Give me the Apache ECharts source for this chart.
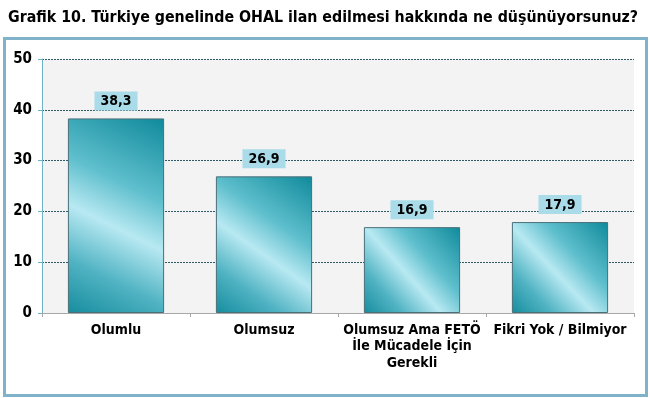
<!DOCTYPE html>
<html>
<head>
<meta charset="utf-8">
<script src="https://cdn.jsdelivr.net/npm/echarts@6/dist/echarts.min.js"></script>
<style>
  html, body { margin: 0; padding: 0; background: #fff; }
  #chart { width: 650px; height: 398px; }
</style>
</head>
<body>
<div id="chart"></div>
<script>
// kategoriler ve değerler (%)
const categories = ['Olumlu', 'Olumsuz', 'Olumsuz Ama FETÖ\nİle Mücadele İçin\nGerekli', 'Fikri Yok / Bilmiyor'];
const values = [38.3, 26.9, 16.9, 17.9];
const yTicks = [0, 10, 20, 30, 40, 50];

const chart = echarts.init(document.getElementById('chart'));
const font = 'Tahoma, "DejaVu Sans Condensed", "DejaVu Sans", sans-serif';

chart.setOption({
  animation: false,
  backgroundColor: '#fff',
  title: {
    text: 'Grafik 10. Türkiye genelinde OHAL ilan edilmesi hakkında ne düşünüyorsunuz?',
    left: 3,
    top: 5,
    textStyle: { fontFamily: font, fontWeight: 'bold', fontSize: 15.8, color: '#000' }
  },
  graphic: [{
    type: 'rect',
    silent: true,
    shape: { x: 4.5, y: 38.5, width: 642, height: 357 },
    style: { fill: 'none', stroke: '#80b2ca', lineWidth: 3 }
  }],
  grid: {
    left: 42, right: 16, top: 59, bottom: 85,
    show: true, backgroundColor: '#f3f3f3', borderWidth: 0
  },
  xAxis: {
    type: 'category',
    data: categories,
    axisLine: { lineStyle: { color: '#a8a8a8' } },
    axisTick: { show: true, length: 4, lineStyle: { color: '#a8a8a8' } },
    axisLabel: {
      interval: 0, margin: 9, color: '#000', fontFamily: font,
      fontWeight: 'bold', fontSize: 14, lineHeight: 16.5
    }
  },
  yAxis: {
    type: 'value',
    min: yTicks[0],
    max: yTicks[yTicks.length - 1],
    interval: 10,
    axisLine: { show: true, lineStyle: { color: '#6fb4c6' } },
    axisTick: { show: true, length: 4, lineStyle: { color: '#6fb4c6' } },
    axisLabel: { color: '#000', fontFamily: font, fontWeight: 'bold', fontSize: 15, margin: 10 },
    splitLine: { lineStyle: { color: '#2e5a66', type: [2, 1], width: 1 } }
  },
  series: [{
    type: 'bar',
    data: values,
    barWidth: '65%',
    itemStyle: {
      borderColor: '#4a6f78',
      borderWidth: 1,
      color: new echarts.graphic.LinearGradient(1, 0, 0, 1, [
        { offset: 0, color: '#0f8a9b' },
        { offset: 0.35, color: '#5fbfcd' },
        { offset: 0.55, color: '#b8e9f2' },
        { offset: 0.78, color: '#4fb2c2' },
        { offset: 1, color: '#168d9e' }
      ])
    },
    label: {
      show: true,
      position: 'top',
      distance: 8,
      formatter: p => String(p.value).replace('.', ','),
      backgroundColor: '#a9dbe8',
      padding: [3, 6, 2, 6],
      color: '#000',
      fontFamily: font,
      fontWeight: 'bold',
      fontSize: 14
    }
  }]
});
</script>
</body>
</html>
